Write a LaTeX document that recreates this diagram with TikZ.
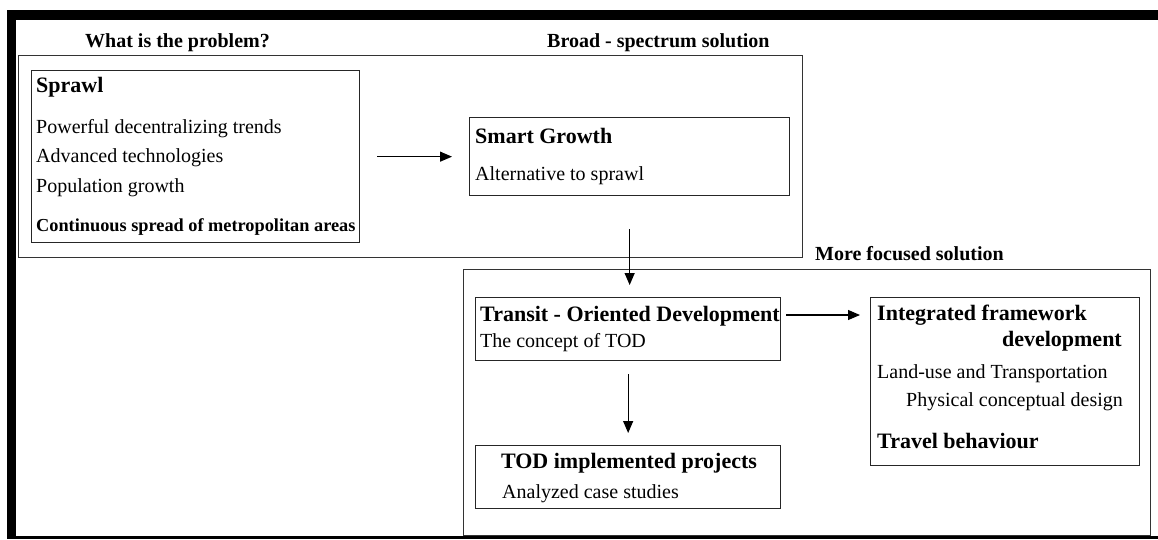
\documentclass[tikz,border=0pt]{standalone}
\usepackage{fontspec}
\setmainfont{Liberation Serif}
\usetikzlibrary{arrows.meta}
\begin{document}
\begin{tikzpicture}[x=1pt,y=-1pt,
  box/.style={draw=black!85,line width=1.3pt,anchor=north west,inner sep=0pt},
  frame/.style={draw=black!80,line width=1.3pt,anchor=north west,inner sep=0pt},
  txt/.style={anchor=base west,inner sep=0pt,font=\fontsize{20}{24}\selectfont},
  head/.style={anchor=base west,inner sep=0pt,font=\fontsize{22}{26}\selectfont\bfseries},
  title/.style={anchor=base west,inner sep=0pt,font=\fontsize{20}{24}\selectfont\bfseries},
  flow/.style={line width=1.2pt,-{Triangle[length=12pt,width=10pt]}}]
\useasboundingbox (0,0) rectangle (1158,539);
\fill[white] (0,0) rectangle (1158,539);
% heavy page border
\fill[black] (7,10) rectangle (1158,20);
\fill[black] (7,10) rectangle (16,539);
\fill[black] (7,536) rectangle (1158,539);

% group frames
\node[frame,minimum width=784pt,minimum height=202pt] (broad) at (18,55) {};
\node[frame,minimum width=687pt,minimum height=266pt] (focus) at (463,269) {};
\node[title] (t1) at (85,47) {What is the problem?};
\node[title] (t2) at (547,47) {Broad - spectrum solution};
\node[title] (t3) at (815,260) {More focused solution};

% boxes
\node[box,minimum width=328pt,minimum height=172pt] (sprawl) at (31,70) {};
\node[box,minimum width=320pt,minimum height=78pt] (smart) at (469,117) {};
\node[box,minimum width=305pt,minimum height=63pt] (tod) at (475,297) {};
\node[box,minimum width=305pt,minimum height=63pt] (impl) at (475,445) {};
\node[box,minimum width=269pt,minimum height=168pt] (integ) at (870,297) {};

% texts
\node[head] (s1) at (36,92) {Sprawl};
\node[txt] (s2) at (36,133) {Powerful decentralizing trends};
\node[txt] (s3) at (36,162) {Advanced technologies};
\node[txt] (s4) at (36,192) {Population growth};
\node[anchor=base west,inner sep=0pt,font=\fontsize{18.3}{22}\selectfont\bfseries] (s5) at (36,231) {Continuous spread of metropolitan areas};

\node[head] (g1) at (475,143) {Smart Growth};
\node[txt] (g2) at (475,180) {Alternative to sprawl};

\node[head] (d1) at (480,321) {Transit - Oriented Development};
\node[txt] (d2) at (480,347) {The concept of TOD};

\node[head,anchor=base] (p1) at (629,468) {TOD implemented projects};
\node[txt] (p2) at (502,498) {Analyzed case studies};

\node[head] (i1) at (877,320) {Integrated framework};
\node[head,anchor=base east] (i2) at (1122,346) {development};
\node[txt] (i3) at (877,378) {Land-use and Transportation};
\node[txt,anchor=base east] (i4) at (1123,406) {Physical conceptual design};
\node[head] (i5) at (877,448) {Travel behaviour};

% connectors
\draw[flow,shorten <=17pt,shorten >=17pt] (sprawl.east) -- (smart.west);
\draw[flow,shorten <=33pt,shorten >=12pt] (smart.south) -- (smart.south |- tod.north);
\draw[flow,shorten <=13pt,shorten >=12pt] (tod.south) -- (impl.north);
\draw[flow,shorten <=5pt,shorten >=10pt] ([yshift=-18pt]tod.north east) -- ([yshift=-18pt]integ.north west);
\end{tikzpicture}
\end{document}
